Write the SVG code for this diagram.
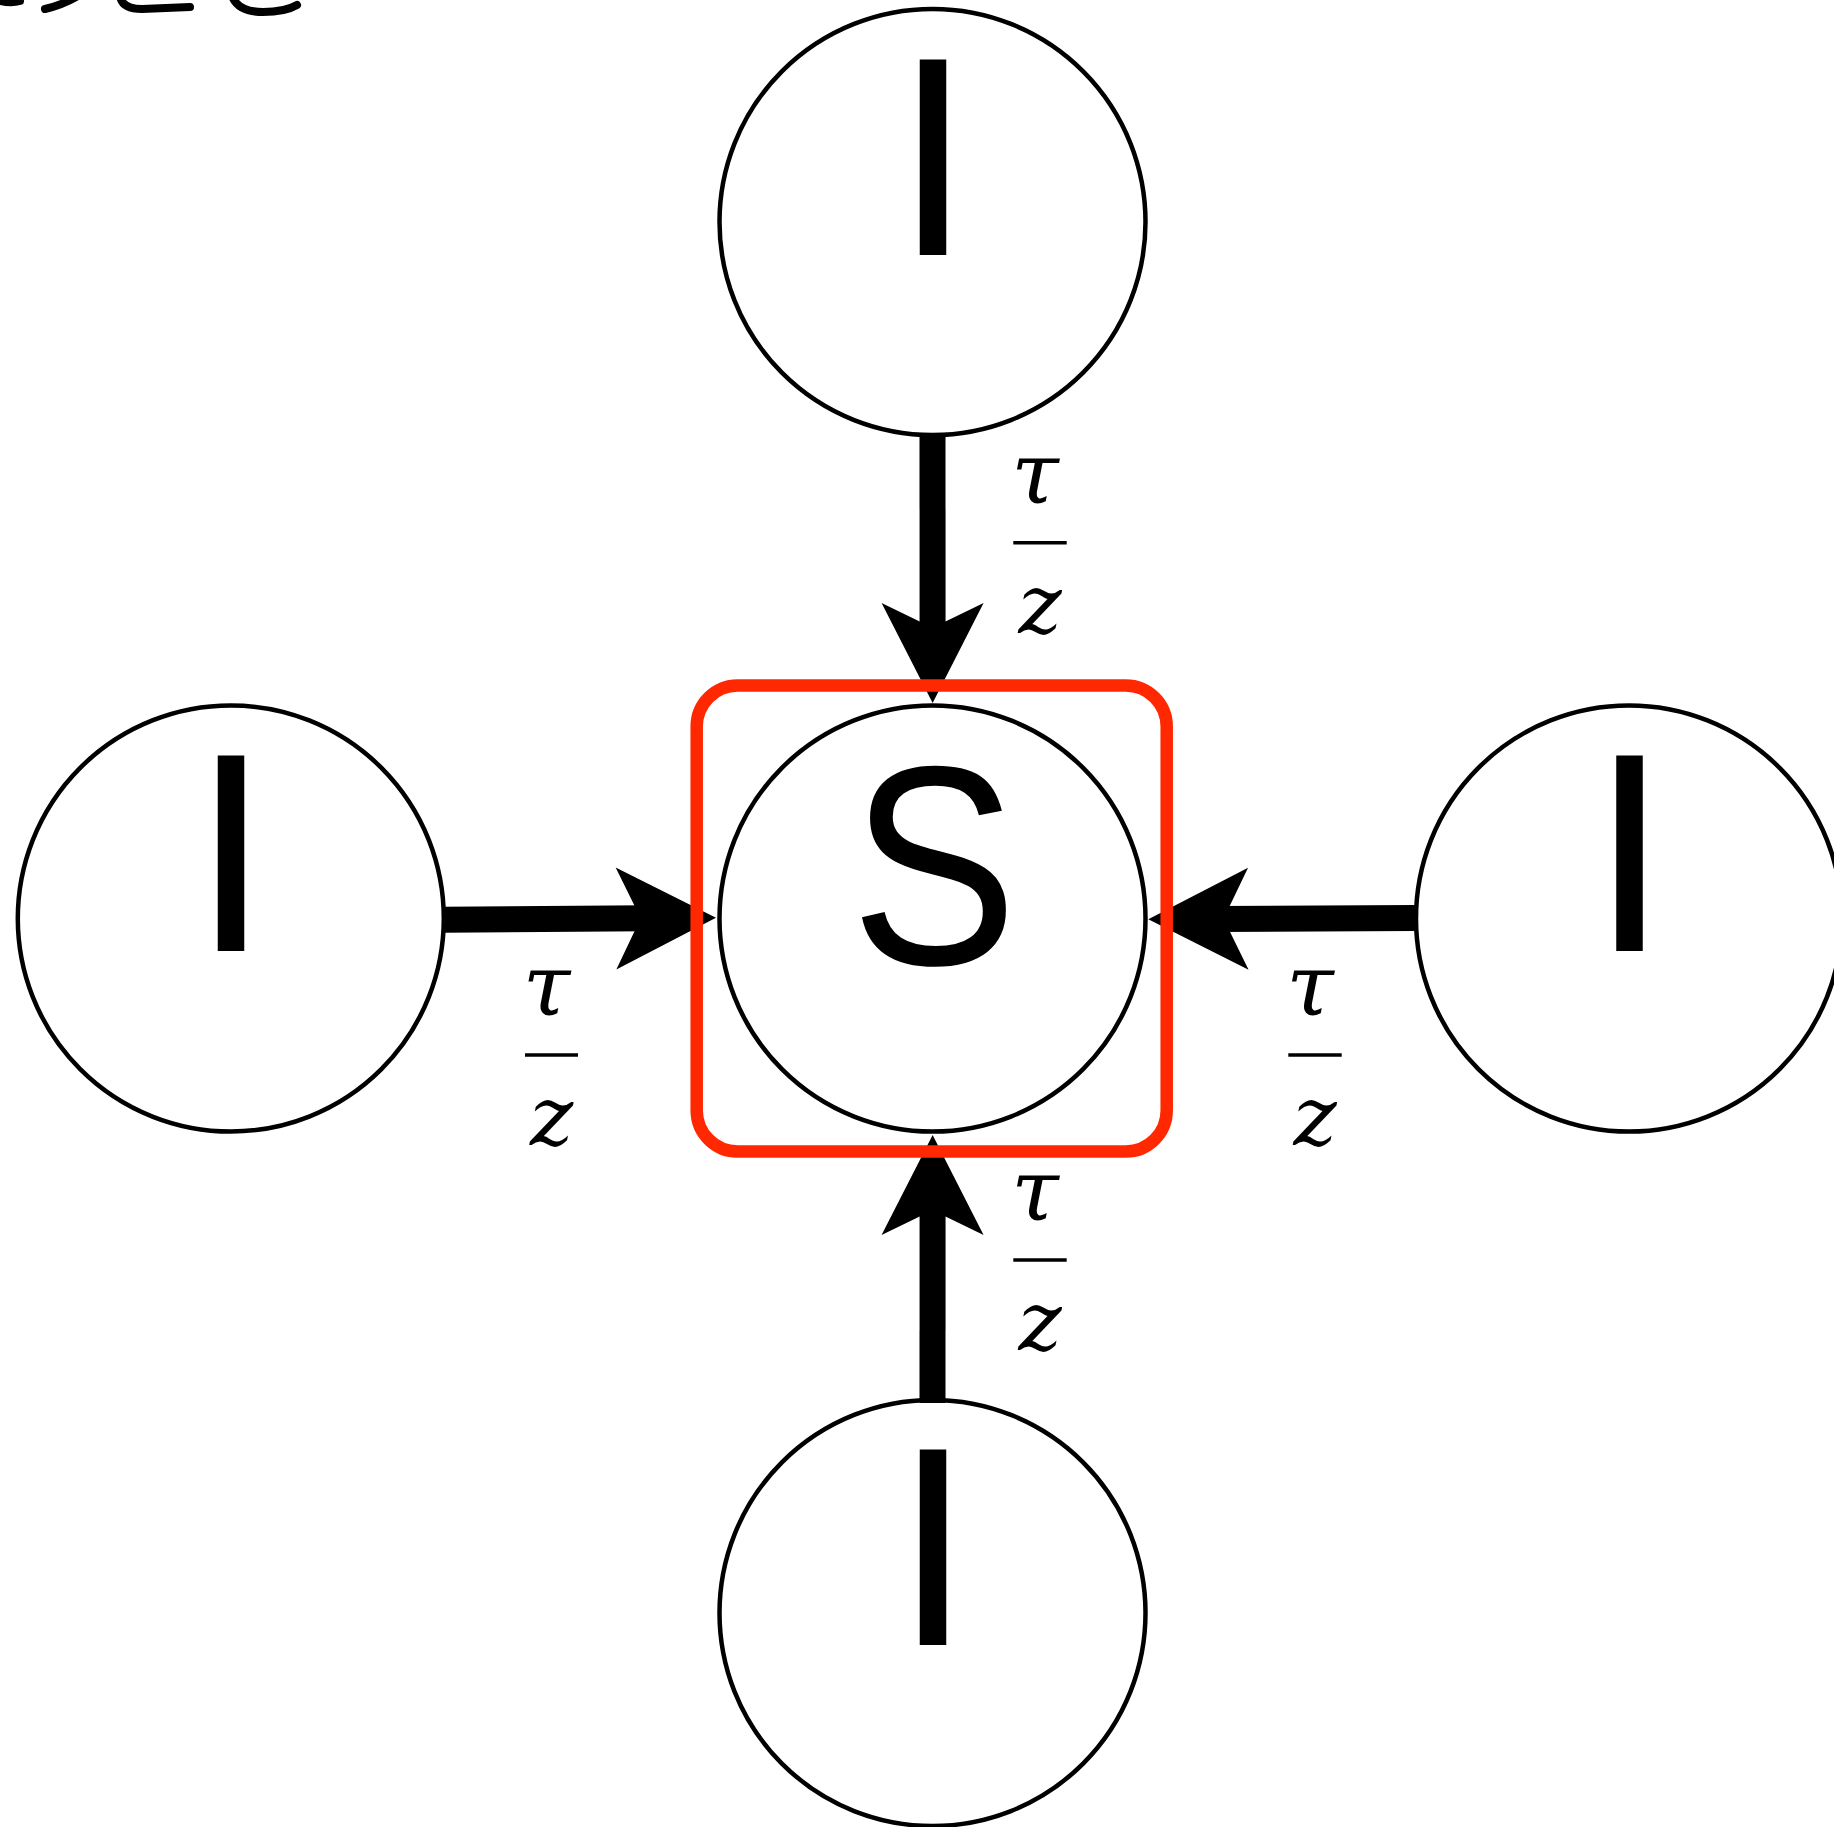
<svg xmlns="http://www.w3.org/2000/svg" width="1834" height="1827" viewBox="0 0 1834 1827">
  <style>
    .node { fill: #ffffff; stroke: #000000; stroke-width: 4.5; }
    .big { font-family: "Liberation Sans", Arial, sans-serif; font-size: 284px; fill: #000000; text-anchor: middle; }
    .math { font-family: "DejaVu Serif", "Liberation Serif", serif; font-style: italic; font-size: 82px; fill: #000000; text-anchor: middle; }
    .tau { font-size: 86px; }
    .bar { stroke: #000000; stroke-width: 3.4; }
    .shaft { stroke: #000000; stroke-width: 26; fill: none; stroke-linecap: butt; marker-end: url(#head); }
    .frag { stroke: #000000; stroke-width: 8; fill: none; stroke-linecap: round; }
    .group-box { fill: none; stroke: #ff2800; stroke-width: 12.5; }
  </style>
  <defs>
    <marker id="head" markerUnits="userSpaceOnUse" markerWidth="110" markerHeight="110" viewBox="-5 -55 110 110" refX="30" refY="0" orient="auto" overflow="visible">
      <path d="M100,0 L0,51 L24.7,0 L0,-51 Z" fill="#000000"/>
    </marker>
  </defs>
  <rect width="1834" height="1827" fill="#ffffff"/>

  <g id="cropped-fragments">
    <path class="frag" d="M-3,0 Q10,4 20,1" stroke-width="7"/>
    <path class="frag" d="M45,9 Q62,5 76,-3"/>
    <path class="frag" d="M120,-4 Q122,9 142,9 L190,7"/>
    <path class="frag" d="M232,-4 Q238,12 263,12 Q285,12 297,5"/>
  </g>

  <g id="node-top">
    <circle class="node" cx="932.5" cy="222" r="213"/>
    <text class="big" x="933" y="255">I</text>
  </g>
  <g id="node-left">
    <circle class="node" cx="230.8" cy="918.5" r="213"/>
    <text class="big" x="231" y="951">I</text>
  </g>
  <g id="node-right">
    <circle class="node" cx="1629" cy="918.5" r="213"/>
    <text class="big" x="1629.5" y="951">I</text>
  </g>
  <g id="node-bottom">
    <circle class="node" cx="932.5" cy="1613" r="213"/>
    <text class="big" x="933" y="1645">I</text>
  </g>
  <g id="node-center">
    <circle class="node" cx="932.5" cy="918.5" r="213"/>
    <text class="big" x="934" y="964" transform="translate(934 0) scale(0.88 1) translate(-934 0)">S</text>
  </g>

  <g id="connectors">
    <line class="shaft" x1="932.5" y1="434" x2="932.6" y2="633"/>
    <line class="shaft" x1="932.5" y1="1403" x2="932.6" y2="1205"/>
    <line class="shaft" x1="443" y1="919.7" x2="646" y2="918.3"/>
    <line class="shaft" x1="1415" y1="917.9" x2="1218.3" y2="918.9"/>
  </g>

  <g id="labels">
    <g id="label-top">
      <text class="math tau" x="1035" y="503">τ</text>
      <line class="bar" x1="1013.3" y1="542.7" x2="1066.7" y2="542.7"/>
      <text class="math" x="1040" y="633">z</text>
    </g>
    <g id="label-left">
      <text class="math tau" x="546.5" y="1015">τ</text>
      <line class="bar" x1="525" y1="1055" x2="578" y2="1055"/>
      <text class="math" x="551.5" y="1145">z</text>
    </g>
    <g id="label-right">
      <text class="math tau" x="1310" y="1015">τ</text>
      <line class="bar" x1="1288.3" y1="1055" x2="1341.7" y2="1055"/>
      <text class="math" x="1315" y="1145">z</text>
    </g>
    <g id="label-bottom">
      <text class="math tau" x="1035" y="1220">τ</text>
      <line class="bar" x1="1013.3" y1="1260" x2="1066.7" y2="1260"/>
      <text class="math" x="1040" y="1350">z</text>
    </g>
  </g>

  <g id="group-S">
    <rect class="group-box" x="696.7" y="685.5" width="470" height="466" rx="41" ry="41"/>
  </g>
</svg>
